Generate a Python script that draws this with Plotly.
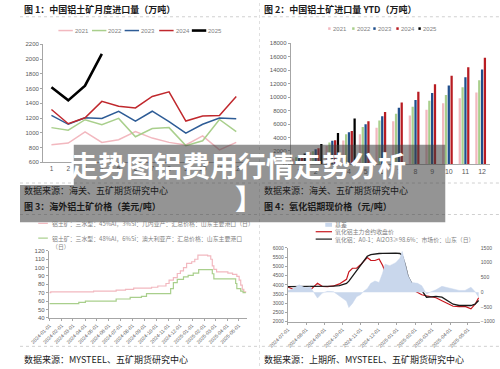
import plotly.graph_objects as go

W, H = 500, 369
FONT = "Liberation Sans, Noto Sans CJK SC, sans-serif"
CJK = "Noto Sans CJK SC, sans-serif"

def px(x):
    return x / W

def py(y):
    return 1 - y / H

# ---------------- data ----------------
months = list(range(1, 13))
imp_2021 = [840, 862, 1013, 871, 907, 1018, 929, 871, 836, 960, 769, 871]
imp_2022 = [1071, 1036, 1178, 1111, 1196, 947, 1058, 1071, 827, 893, 1182, 1018]
imp_2023 = [1236, 1116, 1204, 1196, 1293, 1160, 1293, 1151, 996, 1116, 1200, 1191]
imp_2024 = [1316, 1124, 1204, 1427, 1360, 1338, 1493, 1556, 1160, 1227, 1236, 1493]
imp_2025 = [1618, 1440, 1640, 2071]

ytd_2021 = [830, 1800, 2720, 3550, 4470, 5450, 6420, 7250, 8120, 9100, 9820, 10700]
ytd_2022 = [1070, 1950, 3260, 4470, 5540, 6520, 7540, 8560, 9440, 10310, 11480, 12500]
ytd_2023 = [1240, 2240, 3500, 4770, 5980, 7150, 8410, 9580, 10600, 11720, 12940, 14100]
ytd_2024 = [1320, 2380, 3600, 4960, 6420, 7780, 9190, 10800, 11920, 13180, 14450, 15860]
ytd_2025 = [1620, 3020, 4670, 6810]

years = ["2021", "2022", "2023", "2024", "2025"]

guinea_dates = ["2024-01-01", "2024-01-04", "2024-04-23", "2024-06-20", "2024-07-14", "2024-08-04",
                "2024-09-19", "2024-10-05", "2024-10-26", "2024-11-03", "2024-11-14", "2024-11-24",
                "2024-12-02", "2024-12-10", "2024-12-18", "2024-12-31", "2025-01-08", "2025-01-16",
                "2025-02-10", "2025-02-18", "2025-02-22", "2025-02-26", "2025-03-05", "2025-04-03",
                "2025-04-15", "2025-04-26", "2025-05-02", "2025-05-06", "2025-05-10", "2025-05-14",
                "2025-05-19"]
guinea_price = [70, 71, 72, 73, 74, 75.5, 76.5, 78, 81, 85, 88, 93, 96, 100, 105, 107, 110, 115,
                114, 110, 102, 98, 95, 93.5, 92, 89.5, 85, 79, 74, 71, 70]

aus_dates = ["2024-01-01", "2024-03-16", "2024-04-02", "2024-06-20", "2024-07-26", "2024-08-24",
             "2024-09-06", "2024-11-07", "2024-11-14", "2024-11-24", "2024-12-10", "2024-12-22",
             "2025-01-04", "2025-01-18", "2025-02-22", "2025-02-26", "2025-04-23", "2025-04-26",
             "2025-05-06", "2025-05-12", "2025-05-19"]
aus_price = [57, 58.5, 60, 62.5, 64.5, 65.5, 69, 75, 82, 86, 89, 90.7, 93.5, 97.5, 92.7, 86.5,
             81, 75, 72, 70, 70]

alu_dates = ["2024-07-01", "2024-07-10", "2024-07-20", "2024-07-30", "2024-08-08", "2024-08-15",
             "2024-08-20", "2024-08-28", "2024-09-06", "2024-09-16", "2024-09-26", "2024-10-08",
             "2024-10-12", "2024-10-18", "2024-10-25", "2024-11-01", "2024-11-06", "2024-11-12",
             "2024-11-18", "2024-11-25", "2024-12-02", "2024-12-08", "2024-12-12", "2024-12-20",
             "2024-12-30", "2025-01-06", "2025-01-10", "2025-01-15", "2025-01-20", "2025-01-26",
             "2025-02-05", "2025-02-12", "2025-02-20", "2025-02-28", "2025-03-08", "2025-03-18",
             "2025-03-28", "2025-04-06", "2025-04-16", "2025-04-26", "2025-05-06", "2025-05-13",
             "2025-05-19"]
spot_price = [3900, 3900, 3900, 3900, 3900, 3900, 3900, 3900, 3910, 3930, 3960, 4080,
              4200, 4450, 4750, 5050, 5300, 5550, 5640, 5680, 5700, 5710, 5715, 5715,
              5715, 5700, 5600, 5100, 4450, 4080, 3900, 3700, 3330, 3350, 3370, 3330,
              3150, 2950, 2880, 2880, 2880, 2950, 3150]
fut_price = [3880, 3760, 3720, 3690, 3730, 3950, 4080, 3920, 3900, 3940, 4050, 4300,
             4700, 4900, 4900, 5100, 5280, 5480, 5330, 5320, 5400, 5050, 4720, 4740,
             4700, 4600, 4300, 4100, 3880, 3760, 3560, 3460, 3400, 3340, 3300, 3140,
             3000, 2840, 2820, 2830, 2700, 2950, 3300]
basis = [50, 120, 250, 150, 180, -60, -200, -30, 30, 20, -120, -300,
         -520, -380, -150, -80, 30, 120, 300, 380, 330, 650, 950, 900,
         1000, 1150, 1380, 1000, 560, 330, 300, 220, -60, 20, 80, 200,
         150, 120, 60, 60, 170, 20, -170]

p3_ticks = ["2024-%02d-01" % m for m in range(1, 13)] + ["2025-%02d-01" % m for m in range(1, 6)]
p4_ticks = ["2024-%02d-01" % m for m in range(7, 13)] + ["2025-%02d-01" % m for m in range(1, 6)]

line_colors = ["#F2B8BF", "#A9CF8C", "#2E5C96", "#C0282D", "#000000"]
bar_colors = ["#F2B8BF", "#A9CF8C", "#1F4E8C", "#B81C22", "#000000"]

fig = go.Figure()

# Panel 1 lines
imp_all = [imp_2021, imp_2022, imp_2023, imp_2024, imp_2025]
for yr, vals, c in zip(years, imp_all, line_colors):
    fig.add_trace(go.Scatter(x=months[:len(vals)], y=vals, mode="lines", name=yr,
                             line=dict(color=c, width=2.6 if yr == "2025" else 1.5),
                             xaxis="x", yaxis="y", showlegend=False))

# Panel 2 bars
ytd_all = [ytd_2021, ytd_2022, ytd_2023, ytd_2024, ytd_2025]
for yr, vals, c in zip(years, ytd_all, bar_colors):
    fig.add_trace(go.Bar(x=months[:len(vals)], y=vals, name=yr, marker=dict(color=c, line=dict(width=0)),
                         xaxis="x2", yaxis="y2", showlegend=False))

# Panel 3 lines
fig.add_trace(go.Scatter(x=guinea_dates, y=guinea_price, mode="lines", line=dict(color="#F2B8BF", width=1.2, shape="hv"),
                         xaxis="x3", yaxis="y3", showlegend=False))
fig.add_trace(go.Scatter(x=aus_dates, y=aus_price, mode="lines", line=dict(color="#A9CF8C", width=1.2, shape="hv"),
                         xaxis="x3", yaxis="y3", showlegend=False))

# Panel 4
fig.add_trace(go.Scatter(x=alu_dates, y=basis, mode="lines", fill="tozeroy", fillcolor="#C9D7EC",
                         line=dict(color="#C9D7EC", width=0.5), xaxis="x4", yaxis="y5", showlegend=False))
fig.add_trace(go.Scatter(x=alu_dates, y=fut_price, mode="lines", line=dict(color="#C8171E", width=1.2),
                         xaxis="x4", yaxis="y4", showlegend=False))
fig.add_trace(go.Scatter(x=alu_dates, y=spot_price, mode="lines", line=dict(color="#1A1A1A", width=1.3),
                         xaxis="x4", yaxis="y4", showlegend=False))

axis_common = dict(showline=True, linecolor="#A6A6A6", linewidth=1, showgrid=False, zeroline=False,
                   tickfont=dict(size=6, color="#595959", family=FONT), ticks="outside", ticklen=2,
                   tickcolor="#A6A6A6", tickformat="d", separatethousands=False)

fig.update_layout(
    width=W, height=H, margin=dict(l=0, r=0, t=0, b=0),
    paper_bgcolor="white", plot_bgcolor="rgba(0,0,0,0)",
    barmode="group", bargap=0.15, bargroupgap=0.2,
    font=dict(family=FONT),
    xaxis=dict(axis_common, domain=[px(24), px(234)], range=[0.5, 12.5], tickvals=months, anchor="y",
               ticks="", tickfont=dict(size=6.5, color="#595959")),
    yaxis=dict(axis_common, domain=[py(162), py(42)], range=[600, 2200], dtick=200, anchor="x"),
    xaxis2=dict(axis_common, domain=[px(282), px(490)], range=[0.5, 12.5], tickvals=months, anchor="y2",
                ticks="", tickfont=dict(size=7, color="#595959")),
    yaxis2=dict(axis_common, domain=[py(164), py(41)], range=[0, 18000], dtick=2000, anchor="x2"),
    xaxis3=dict(axis_common, type="date", domain=[px(30), px(236)], range=["2023-12-30", "2025-05-21"],
                tickvals=p3_ticks, tickformat="%Y-%m-%d", tickangle=-45, anchor="y3",
                tickfont=dict(size=5, color="#595959")),
    yaxis3=dict(axis_common, domain=[py(320), py(252)], range=[40, 120], dtick=10, anchor="x3"),
    xaxis4=dict(axis_common, type="date", domain=[px(279), px(479)], range=["2024-07-01", "2025-05-21"],
                tickvals=p4_ticks, tickformat="%Y-%m-%d", tickangle=-45, anchor="y4",
                tickfont=dict(size=5, color="#595959")),
    yaxis4=dict(axis_common, domain=[py(324), py(249)], range=[2000, 6000], dtick=500, anchor="x4",
                tickfont=dict(size=5, color="#595959")),
    yaxis5=dict(showline=False, showgrid=False, zeroline=False, overlaying="y4", side="right", anchor="x4",
                range=[-1000, 1500], dtick=500, ticks="", tickformat="d",
                tickfont=dict(size=5, color="#595959", family=FONT)),
)

shapes = []
ann = []

def text(x, y, s, size, color="#404040", xanchor="left", family=CJK):
    ann.append(dict(x=px(x), y=py(y), xref="paper", yref="paper", text=s, showarrow=False,
                    xanchor=xanchor, yanchor="middle", font=dict(size=size, color=color, family=family)))

def hline(x0, x1, y, color, width=1, dash="solid"):
    shapes.append(dict(type="line", xref="paper", yref="paper", x0=px(x0), x1=px(x1), y0=py(y), y1=py(y),
                       line=dict(color=color, width=width, dash=dash)))

# separators
for y in (14, 183, 215, 349):
    hline(0, 247, y, "#D0D0D0", 1, "dot")
    hline(252, 500, y, "#D0D0D0", 1, "dot")
shapes.append(dict(type="line", xref="paper", yref="paper", x0=px(249.5), x1=px(249.5), y0=0, y1=1,
                   line=dict(color="#E0E0E0", width=1, dash="dot")))

# titles / sources
text(2, 7, "<b>图 1：中国铝土矿月度进口量（万吨）</b>", 9, "#1A1A1A")
text(252, 7, "<b>图 2：中国铝土矿进口量 YTD（万吨）</b>", 9, "#1A1A1A")
text(2, 191, "数据来源：海关、五矿期货研究中心", 9, "#1A1A1A")
text(252, 191, "数据来源：海关、五矿期货研究中心", 9, "#1A1A1A")
text(2, 207, "<b>图 3：海外铝土矿价格（美元/吨）</b>", 9, "#1A1A1A")
text(252, 207, "<b>图 4：氧化铝期现价格（元/吨）</b>", 9, "#1A1A1A")
text(2, 362, "数据来源：MYSTEEL、五矿期货研究中心", 9, "#1A1A1A")
text(252, 362, "数据来源：上期所、MYSTEEL、五矿期货研究中心", 9, "#1A1A1A")

# panel 1 legend
leg1_x = [40, 75, 109, 145, 179]
for yr, c, x0 in zip(years, line_colors, leg1_x):
    hline(x0, x0 + 15, 28, c, 2.6 if yr == "2025" else 1.5)
    text(x0 + 15, 28, yr, 6, "#7F7F7F", family=FONT)

# panel 2 legend
leg2_x = [321, 346, 368, 392, 415]
for yr, c, x0 in zip(years, bar_colors, leg2_x):
    shapes.append(dict(type="rect", xref="paper", yref="paper", x0=px(x0), x1=px(x0 + 2.5),
                       y0=py(27.3), y1=py(24.7), fillcolor=c, line=dict(width=0)))
    text(x0 + 2.5, 26, yr, 6, "#7F7F7F", family=FONT)

# panel 3 legend
hline(19, 29, 224, "#F2B8BF", 1.2)
text(31, 224, "铝土矿：三水型：45%Al，3%Si：几内亚产：汇总价格：山东主要港口（日）", 5.9, "#7F7F7F")
hline(19, 29, 239, "#A9CF8C", 1.2)
text(31, 239, "铝土矿：三水型：48%Al，6%Si：澳大利亚产：汇总价格：山东主要港口", 5.9, "#7F7F7F")
text(31, 247.5, "（日）", 5.9, "#7F7F7F")

# panel 4 legend
shapes.append(dict(type="rect", xref="paper", yref="paper", x0=px(318), x1=px(325), y0=py(227.5),
                   y1=py(223.5), fillcolor="#C9D7EC", line=dict(width=0)))
text(326, 225.5, "基差", 5.9, "#7F7F7F")
hline(308, 325, 232.5, "#C8171E", 1.2)
text(326, 232.5, "氧化铝主力合约收盘价", 5.9, "#7F7F7F")
hline(308, 325, 240, "#1A1A1A", 1.2)
text(326, 240, "氧化铝：A0-1：Al2O3≥98.6%：市场价：山东（日）", 5.9, "#7F7F7F")

# overlay bands
shapes.append(dict(type="rect", xref="paper", yref="paper", x0=px(56), x1=px(443), y0=py(185), y1=py(144),
                   fillcolor="rgba(60,60,60,0.55)", line=dict(width=0), layer="above"))
shapes.append(dict(type="rect", xref="paper", yref="paper", x0=0, x1=px(443), y0=py(223), y1=py(185),
                   fillcolor="rgba(60,60,60,0.55)", line=dict(width=0), layer="above"))

# overlay headline text
ann.append(dict(x=px(50), y=py(165), xref="paper", yref="paper", text="<b>走势图铝费用行情走势分析</b>", showarrow=False,
                xanchor="left", yanchor="middle", font=dict(size=28, color="white", family=CJK)))
ann.append(dict(x=px(222), y=py(198), xref="paper", yref="paper", text="<b>】</b>", showarrow=False,
                xanchor="left", yanchor="middle", font=dict(size=28, color="white", family=CJK)))

fig.update_layout(shapes=shapes, annotations=ann)
fig.write_html("out.html")
